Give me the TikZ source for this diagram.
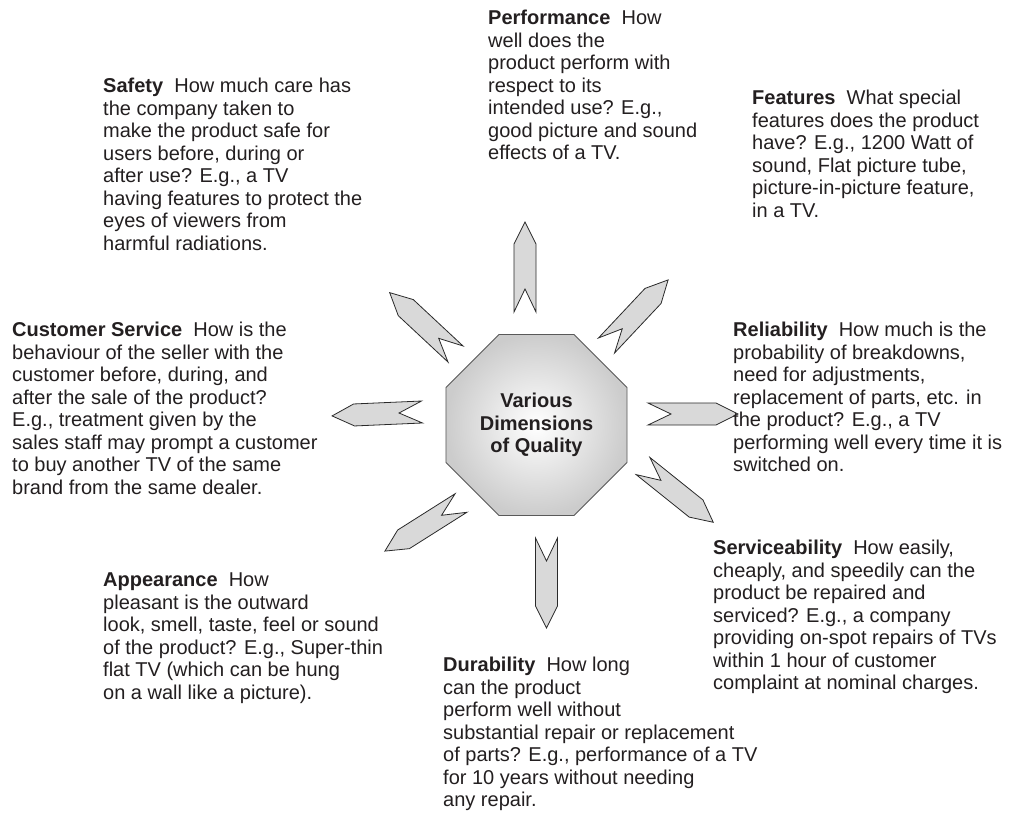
\documentclass[tikz,border=0pt]{standalone}
\usepackage{fontspec}
\setmainfont{Liberation Sans}
\usetikzlibrary{shapes.geometric}
\definecolor{inkgray}{HTML}{231F20}
\definecolor{rayfill}{HTML}{D9D9D9}
\definecolor{rayline}{HTML}{2A2A2A}
\tikzset{
  desc/.style={anchor=north west, inner sep=0pt, align=left, text=inkgray,
    font=\fontsize{20}{22.5}\selectfont},
  hub/.style={regular polygon, regular polygon sides=8, minimum size=196pt,
    draw=black!65, line width=0.8pt, shading=radial, inner color=white,
    outer color=black!20, align=center, text=inkgray,
    font=\fontsize{20}{22.5}\selectfont\bfseries},
  rayshape/.style={fill=rayfill, draw=rayline, line width=0.8pt, line join=miter},
  ray/.pic={\path[rayshape] (0,11) -- (68,11) -- (90,0) -- (68,-11) -- (0,-11) -- (23,0) -- cycle;}
}
\begin{document}
\begin{tikzpicture}[x=1pt,y=-1pt]
\useasboundingbox[fill=white] (0,0) rectangle (1034,817);

% central octagon
\node[hub] (oct) at (536.5,425) {Various\\Dimensions\\of Quality};

% tails of the eight rays
\coordinate (tperf) at (525,312);
\coordinate (tfeat) at (606.5,345.5);
\coordinate (trel)  at (648,414);
\coordinate (tserv) at (643,466);
\coordinate (tdur)  at (546.5,538);
\coordinate (tapp)  at (461,503);
\coordinate (tcs)   at (422,412);
\coordinate (tsaf)  at (455.5,354);

\pic[rotate=90]    at (tperf) {ray};
\pic[rotate=46.8]  at (tfeat) {ray};
\pic[rotate=0]     at (trel)  {ray};
\pic[rotate=-38.7] at (tserv) {ray};
\pic[rotate=-90]   at (tdur)  {ray};
\pic[rotate=212.3] at (tapp)  {ray};
\pic[rotate=182.5] at (tcs)   {ray};
\pic[rotate=137]   at (tsaf)  {ray};

% descriptions
\node[desc] (perf) at (488,10) {\textbf{Performance}\ \ How\\well does the\\product perform with\\respect to its\\intended use? E.g.,\\good picture and sound\\effects of a TV.};

\node[desc] (feat) at (752,90) {\textbf{Features}\ \ What special\\features does the product\\have? E.g., 1200 Watt of\\sound, Flat picture tube,\\picture-in-picture feature,\\in a TV.};

\node[desc] (saf) at (103,78) {\textbf{Safety}\ \ How much care has\\the company taken to\\make the product safe for\\users before, during or\\after use? E.g., a TV\\having features to protect the\\eyes of viewers from\\harmful radiations.};

\node[desc] (cs) at (12,322) {\textbf{Customer Service}\ \ How is the\\behaviour of the seller with the\\customer before, during, and\\after the sale of the product?\\E.g., treatment given by the\\sales staff may prompt a customer\\to buy another TV of the same\\brand from the same dealer.};

\node[desc] (rel) at (733,322) {\textbf{Reliability}\ \ How much is the\\probability of breakdowns,\\need for adjustments,\\replacement of parts, etc. in\\the product? E.g., a TV\\performing well every time it is\\switched on.};

\node[desc] (serv) at (713,540) {\textbf{Serviceability}\ \ How easily,\\cheaply, and speedily can the\\product be repaired and\\serviced? E.g., a company\\providing on-spot repairs of TVs\\within 1 hour of customer\\complaint at nominal charges.};

\node[desc] (app) at (103,573) {\textbf{Appearance}\ \ How\\pleasant is the outward\\look, smell, taste, feel or sound\\of the product? E.g., Super-thin\\flat TV (which can be hung\\on a wall like a picture).};

\node[desc] (dur) at (443,657) {\textbf{Durability}\ \ How long\\can the product\\perform well without\\substantial repair or replacement\\of parts? E.g., performance of a TV\\for 10 years without needing\\any repair.};
\end{tikzpicture}
\end{document}
